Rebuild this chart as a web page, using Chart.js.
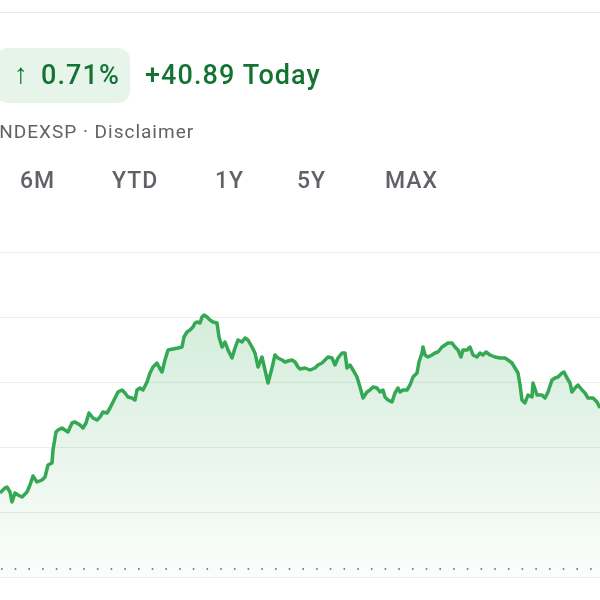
<!DOCTYPE html>
<html>
<head>
<meta charset="utf-8">
<script src="https://cdn.jsdelivr.net/npm/chart.js@4"></script>
<style>
  body { margin: 0; width: 600px; height: 600px; overflow: hidden; background: #fff; font-family: Roboto, "Noto Sans", sans-serif; position: relative; }
  #chart { position: absolute; left: 0; top: 0; }
  .sep { position: absolute; left: 0; right: 0; top: 12px; height: 1px; background: #e2ede5; }
  .badge { position: absolute; left: -4px; top: 48px; width: 134px; height: 55px; background: #e6f4ea; border-radius: 12px; }
  .big { position: absolute; top: 62px; font-size: 27px; line-height: 27px; font-weight: 500; color: #137333; white-space: nowrap; letter-spacing: 1.1px; }
  .arrow { position: absolute; left: 14px; top: 60px; font-size: 28px; line-height: 28px; font-weight: 700; color: #137333; }
  .sub { position: absolute; left: -7px; top: 122px; font-size: 19px; line-height: 19px; color: #5f6368; white-space: nowrap; letter-spacing: 1px; }
  .tab { position: absolute; top: 169px; font-size: 23px; line-height: 23px; font-weight: 500; color: #5f6368; letter-spacing: 1px; }
</style>
</head>
<body>
<canvas id="chart" width="600" height="600"></canvas>
<div class="sep"></div>
<div class="badge"></div>
<div class="arrow">↑</div>
<div class="big" style="left:41px">0.71%</div>
<div class="big" style="left:145px">+40.89 Today</div>
<div class="sub">INDEXSP · Disclaimer</div>
<div class="tab" style="left:20px">6M</div>
<div class="tab" style="left:112px">YTD</div>
<div class="tab" style="left:215px">1Y</div>
<div class="tab" style="left:297px">5Y</div>
<div class="tab" style="left:385px">MAX</div>
<script>
// time index of each sample across the visible window (0..600)
const positions = [0,3,5,7,10,12,15,18,22,27,30,33,37,42,45,48,52,53,56,58,62,65,68,72,75,80,83,86,89,93,97,
  100,103,107,110,115,118,122,125,128,132,135,137,140,143,147,150,153,157,159,162,165,168,173,178,182,184,187,190,193,195,197,
  200,202,204,207,210,213,217,219,222,225,228,232,235,238,242,245,248,252,255,258,262,265,268,272,275,278,282,285,288,292,295,298,
  300,305,310,315,318,322,325,328,332,335,338,342,345,347,350,353,357,360,363,367,370,373,377,380,383,385,388,392,395,398,
  400,403,407,410,413,417,419,422,423,425,428,432,435,438,442,445,448,452,455,458,461,463,467,470,473,477,480,483,486,490,495,
  500,505,508,512,515,518,520,522,525,528,532,533,537,542,545,548,552,555,558,562,564,567,570,572,575,578,582,585,588,593,597,600];

const closes = [5168,5174,5178,5180,5170,5150,5168,5164,5160,5170,5184,5202,5190,5194,5200,5224,5228,5254,5290,5294,5298,5294,5290,5308,5310,5304,5298,5308,5328,5318,5314,
  5320,5330,5328,5338,5358,5370,5374,5368,5360,5358,5354,5374,5378,5374,5390,5408,5420,5428,5420,5410,5434,5454,5456,5458,5460,5480,5490,5494,5500,5508,5510,
  5508,5520,5524,5520,5514,5510,5508,5480,5460,5470,5454,5438,5458,5474,5470,5478,5474,5460,5448,5420,5440,5414,5388,5418,5444,5438,5434,5430,5432,5434,5430,5420,
  5416,5418,5414,5418,5424,5428,5434,5440,5438,5424,5438,5448,5448,5418,5424,5414,5400,5380,5358,5370,5374,5380,5378,5370,5374,5360,5354,5350,5368,5378,
  5370,5374,5374,5384,5400,5408,5430,5448,5460,5444,5440,5444,5448,5450,5460,5464,5468,5468,5460,5454,5440,5454,5454,5460,5444,5440,5448,5444,5450,5444,5440,
  5438,5438,5434,5428,5418,5408,5384,5354,5348,5364,5360,5388,5364,5364,5358,5370,5394,5398,5400,5408,5410,5398,5388,5370,5378,5384,5374,5368,5358,5358,5350,5338];

const previousClose = 5016;
const gridTicks = [5000, 5130, 5260, 5390, 5520, 5650];

const ctx = document.getElementById("chart").getContext("2d");

function areaFill(context) {
  const area = context.chart.chartArea;
  if (!area) return "rgba(52,168,83,0.15)";
  const g = context.chart.ctx.createLinearGradient(0, area.top, 0, area.bottom);
  g.addColorStop(0, "rgba(52,168,83,0.26)");
  g.addColorStop(1, "rgba(52,168,83,0.02)");
  return g;
}

new Chart(ctx, {
  type: "line",
  data: {
    datasets: [
      {
        data: positions.map((p, i) => ({ x: p, y: closes[i] })),
        borderColor: "#34a853",
        borderWidth: 3.5,
        backgroundColor: areaFill,
        fill: "start",
        pointRadius: 0,
        tension: 0,
        borderJoinStyle: "round"
      },
      {
        data: [{ x: 0, y: previousClose }, { x: 600, y: previousClose }],
        borderColor: "#4a6b52",
        borderWidth: 1.6,
        borderDash: [1.6, 12.1],
        borderDashOffset: -1,
        pointRadius: 0,
        fill: false
      }
    ]
  },
  options: {
    responsive: false,
    animation: false,
    devicePixelRatio: 1,
    layout: { padding: { top: 252, bottom: 23, left: 0, right: 0 } },
    plugins: { legend: { display: false }, tooltip: { enabled: false } },
    scales: {
      x: { type: "linear", min: 0, max: 600, display: false },
      y: {
        min: gridTicks[0],
        max: gridTicks[gridTicks.length - 1],
        afterBuildTicks: axis => { axis.ticks = gridTicks.map(v => ({ value: v })); },
        ticks: { display: false },
        border: { display: false },
        grid: { color: "#e9efeb", drawTicks: false, lineWidth: 1 }
      }
    }
  }
});
</script>
</body>
</html>
